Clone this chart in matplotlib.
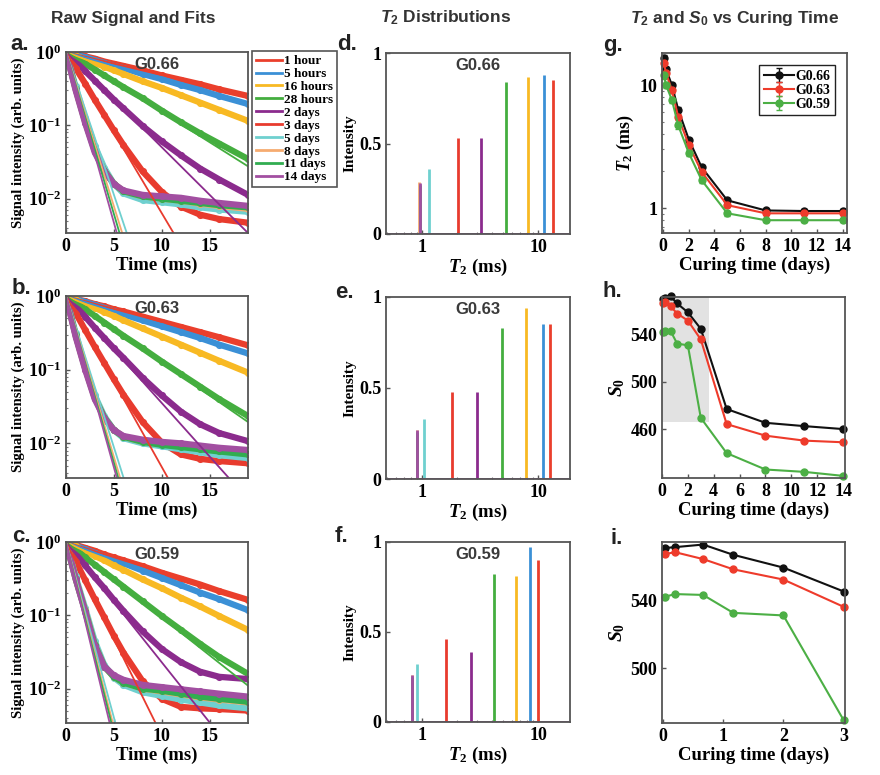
import numpy as np
import matplotlib
matplotlib.use('Agg')
import matplotlib.pyplot as plt

plt.rcParams['font.family'] = 'Liberation Serif'
plt.rcParams['font.weight'] = 'bold'
plt.rcParams['axes.labelweight'] = 'bold'
plt.rcParams['mathtext.fontset'] = 'custom'
plt.rcParams['mathtext.rm'] = 'Liberation Serif:bold'
plt.rcParams['mathtext.it'] = 'Liberation Serif:italic:bold'
plt.rcParams['mathtext.bf'] = 'Liberation Sans:italic:bold'
plt.rcParams['mathtext.sf'] = 'Liberation Sans:bold'

# ---- data ----
labels = ['1 hour', '5 hours', '16 hours', '28 hours', '2 days', '3 days',
          '5 days', '8 days', '11 days', '14 days']
colors = ['#ea3f2c', '#3b90d6', '#f8b923', '#44ae3f', '#8b2b8d', '#e83b2e',
          '#6fd0cf', '#f6ab70', '#31ad50', '#a24fa1']

# raw decays: log10(signal) at t_ms, one row per curing time
t_ms = [0, 1, 2, 3, 4, 5, 6, 8, 10, 12, 14, 16, 19]
logsig_a = [
    [0, -0.03, -0.06, -0.09, -0.13, -0.16, -0.19, -0.25, -0.32, -0.38, -0.44, -0.51, -0.60],
    [0, -0.04, -0.07, -0.11, -0.15, -0.19, -0.22, -0.30, -0.37, -0.45, -0.52, -0.60, -0.71],
    [0, -0.05, -0.10, -0.15, -0.20, -0.25, -0.30, -0.40, -0.49, -0.59, -0.69, -0.79, -0.94],
    [0, -0.08, -0.16, -0.24, -0.32, -0.40, -0.48, -0.63, -0.80, -0.96, -1.11, -1.25, -1.46],
    [0, -0.13, -0.26, -0.39, -0.52, -0.65, -0.77, -1.01, -1.22, -1.41, -1.59, -1.74, -1.95],
    [0, -0.22, -0.43, -0.65, -0.86, -1.07, -1.27, -1.63, -1.91, -2.11, -2.22, -2.28, -2.33],
    [0, -0.47, -0.90, -1.28, -1.58, -1.80, -1.93, -2.02, -2.05, -2.08, -2.12, -2.15, -2.18],
    [0, -0.50, -0.95, -1.33, -1.62, -1.80, -1.90, -1.97, -2.00, -2.03, -2.07, -2.10, -2.14],
    [0, -0.50, -0.95, -1.35, -1.62, -1.80, -1.90, -1.97, -2.00, -2.03, -2.06, -2.09, -2.12],
    [0, -0.52, -0.97, -1.37, -1.63, -1.80, -1.89, -1.95, -1.97, -1.99, -2.03, -2.06, -2.10],
]
logsig_b = [
    [0, -0.04, -0.07, -0.11, -0.14, -0.18, -0.21, -0.28, -0.35, -0.42, -0.49, -0.56, -0.67],
    [0, -0.04, -0.08, -0.12, -0.16, -0.21, -0.25, -0.33, -0.41, -0.49, -0.57, -0.66, -0.78],
    [0, -0.05, -0.11, -0.16, -0.22, -0.27, -0.33, -0.44, -0.55, -0.66, -0.77, -0.88, -1.04],
    [0, -0.09, -0.18, -0.27, -0.36, -0.45, -0.54, -0.71, -0.89, -1.06, -1.23, -1.40, -1.63],
    [0, -0.14, -0.28, -0.43, -0.57, -0.71, -0.84, -1.11, -1.35, -1.57, -1.74, -1.86, -1.97],
    [0, -0.23, -0.46, -0.69, -0.91, -1.13, -1.34, -1.71, -1.99, -2.15, -2.21, -2.24, -2.27],
    [0, -0.50, -0.95, -1.35, -1.63, -1.82, -1.93, -2.00, -2.04, -2.08, -2.12, -2.16, -2.20],
    [0, -0.53, -0.98, -1.38, -1.65, -1.82, -1.91, -1.98, -2.01, -2.04, -2.07, -2.10, -2.14],
    [0, -0.53, -0.98, -1.38, -1.65, -1.82, -1.91, -1.98, -2.02, -2.05, -2.08, -2.11, -2.15],
    [0, -0.55, -1.00, -1.40, -1.66, -1.82, -1.90, -1.95, -1.98, -2.00, -2.03, -2.06, -2.09],
]
logsig_c = [
    [0, -0.04, -0.08, -0.12, -0.17, -0.21, -0.25, -0.33, -0.42, -0.50, -0.58, -0.67, -0.79],
    [0, -0.05, -0.10, -0.15, -0.20, -0.25, -0.29, -0.39, -0.49, -0.59, -0.69, -0.78, -0.93],
    [0, -0.06, -0.13, -0.19, -0.25, -0.32, -0.38, -0.51, -0.63, -0.76, -0.88, -1.01, -1.20],
    [0, -0.10, -0.21, -0.31, -0.41, -0.51, -0.61, -0.81, -1.01, -1.20, -1.39, -1.57, -1.80],
    [0, -0.16, -0.32, -0.48, -0.63, -0.79, -0.94, -1.22, -1.46, -1.64, -1.77, -1.84, -1.87],
    [0, -0.26, -0.52, -0.78, -1.03, -1.28, -1.51, -1.90, -2.14, -2.25, -2.27, -2.28, -2.30],
    [0, -0.47, -0.90, -1.35, -1.68, -1.85, -1.95, -2.05, -2.10, -2.15, -2.19, -2.23, -2.27],
    [0, -0.50, -0.93, -1.40, -1.70, -1.84, -1.92, -2.00, -2.04, -2.08, -2.12, -2.15, -2.19],
    [0, -0.50, -0.94, -1.40, -1.70, -1.84, -1.92, -2.00, -2.03, -2.07, -2.11, -2.14, -2.18],
    [0, -0.50, -0.95, -1.42, -1.70, -1.82, -1.88, -1.95, -1.98, -2.01, -2.04, -2.07, -2.11],
]
# single-exponential fits: log10 value at t = 0 and t = 19 ms
fit_t = [0, 19]
fit_end_a = [-0.60, -0.71, -0.94, -1.56, -2.47, -4.18, -7.4, -8.0, -8.4, -8.85]
fit_end_b = [-0.667, -0.78, -1.04, -1.71, -2.76, -4.41, -7.8, -8.3, -8.6, -8.84]
fit_end_c = [-0.79, -0.93, -1.20, -1.96, -3.12, -5.02, -9.1, -9.6, -9.9, -10.3]

# T2 distributions: peak position (ms) and height
peak_d = [13.4, 11.2, 8.2, 5.3, 3.24, 2.03, 1.15, 0.95, 0.955, 0.96]
height_d = [0.85, 0.88, 0.87, 0.84, 0.53, 0.53, 0.36, 0.29, 0.27, 0.28]
peak_e = [12.6, 10.9, 7.9, 4.84, 2.95, 1.82, 1.05, 0.90, 0.905, 0.90]
height_e = [0.85, 0.85, 0.94, 0.83, 0.48, 0.48, 0.33, 0.27, 0.26, 0.27]
peak_f = [9.9, 8.43, 6.46, 4.2, 2.62, 1.6, 0.90, 0.82, 0.825, 0.82]
height_f = [0.90, 0.97, 0.81, 0.82, 0.39, 0.46, 0.32, 0.26, 0.25, 0.26]

# T2 and S0 vs curing time
days = [0.04, 0.21, 0.67, 1.17, 2, 3, 5, 8, 11, 14]
t2_066 = [16.6, 13.5, 10.0, 6.3, 3.6, 2.15, 1.16, 0.96, 0.95, 0.95]
t2_063 = [15.1, 12.6, 9.1, 5.5, 3.25, 1.97, 1.06, 0.91, 0.91, 0.91]
t2_059 = [12.1, 10.0, 7.6, 4.7, 2.8, 1.69, 0.91, 0.80, 0.80, 0.80]
t2_err = [0.8, 0.6, 0.45, 0.3, 0.15, 0.09, 0.04, 0.03, 0.03, 0.03]
s0_066 = [570.5, 571, 572.5, 566.5, 559, 545, 477, 465.3, 462.5, 460]
s0_063 = [567, 568, 564, 558, 552, 536, 464.2, 454.4, 450.2, 448.8]
s0_059 = [542, 543.5, 543, 532.5, 531, 469.5, 439.6, 425.7, 423.7, 420.3]
zoom_days = [0, 3.6]
zoom_s0 = [466, 572]

series_names = ['G0.66', 'G0.63', 'G0.59']
series_colors = ['#111111', '#ee3b2b', '#4caf45']

W, H = 880, 775
fig = plt.figure(figsize=(W / 100, H / 100), dpi=100)

def box(x0, y0, x1, y1):
    return fig.add_axes([x0 / W, 1 - y1 / H, (x1 - x0) / W, (y1 - y0) / H])

def style(ax):
    for s in ax.spines.values():
        s.set_color('#555555')
        s.set_linewidth(1.3)
    ax.tick_params(direction='in', labelsize=13, length=3, width=1, color='#555555')
    ax.tick_params(which='minor', direction='in', length=1.5, width=0.8, color='#777777')
    for lab in ax.get_xticklabels() + ax.get_yticklabels():
        lab.set_fontweight('bold')

tag_font = dict(family='Liberation Sans', weight='bold', fontsize=16, color='#222222')
name_font = dict(family='Liberation Sans', weight='bold', fontsize=12, color='#3a3a3a')

# ---- column 1: raw signal ----
rows = [(52, 233), (296, 478), (542, 723)]
raw_sets = [(logsig_a, fit_end_a, 'G0.66'), (logsig_b, fit_end_b, 'G0.63'),
            (logsig_c, fit_end_c, 'G0.59')]
for r, (logsig, fit_end, name) in enumerate(raw_sets):
    ax = box(66, rows[r][0], 248, rows[r][1])
    fits = []
    for k in range(10):
        ax.plot(t_ms, 10 ** np.array(logsig[k]), '-o', color=colors[k], lw=4.5,
                ms=4, mfc='none', mew=1.1)
    for k in range(10):
        ln, = ax.plot(fit_t, 10 ** np.array([0, fit_end[k]]), color=colors[k], lw=1.3)
        fits.append(ln)
    ax.set_yscale('log')
    ax.set_xlim(0, 19)
    ax.set_ylim(10 ** -2.47, 1)
    ax.set_xticks([0, 5, 10, 15])
    ax.set_yticks([1, 0.1, 0.01])
    ax.set_xlabel('Time (ms)', fontsize=13.5, labelpad=1)
    ax.set_ylabel('Signal intensity (arb. units)', fontsize=10.5, labelpad=2)
    ax.text(0.5, 0.93, name, transform=ax.transAxes, ha='center', va='center', **name_font)
    style(ax)
    if r == 0:
        leg = ax.legend(fits, labels, loc='upper left', bbox_to_anchor=(1.022, 1.005),
                        borderaxespad=0, fontsize=9.5, labelspacing=0.05,
                        handlelength=2.0, handletextpad=0.1, borderpad=0.3,
                        fancybox=False, framealpha=1, edgecolor='#555555')
        leg.get_frame().set_linewidth(1.2)
        for ln in leg.get_lines():
            ln.set_linewidth(2)

# ---- column 2: T2 distributions ----
dist_rows = [(53, 234), (297, 479), (542, 722)]
dist_sets = [(peak_d, height_d, 'G0.66'), (peak_e, height_e, 'G0.63'),
             (peak_f, height_f, 'G0.59')]
for r, (peaks, heights, name) in enumerate(dist_sets):
    ax = box(386, dist_rows[r][0], 570, dist_rows[r][1])
    for k in range(10):
        ax.vlines(peaks[k], 0, heights[k], color=colors[k], lw=2)
    ax.axhline(0, color=colors[9], lw=2)
    ax.set_xscale('log')
    ax.set_xlim(0.49, 18.8)
    ax.set_ylim(0, 1)
    ax.set_xticks([1, 10], ['1', '10'])
    ax.set_yticks([0, 0.5, 1], ['0', '0.5', '1'])
    ax.set_xlabel(r'$T_2$ (ms)', fontsize=13.5, labelpad=1)
    ax.set_ylabel('Intensity', fontsize=11, labelpad=2)
    ax.text(0.5, 0.93, name, transform=ax.transAxes, ha='center', va='center', **name_font)
    style(ax)

# ---- column 3: T2 and S0 vs curing time ----
t2_sets = [t2_066, t2_063, t2_059]
s0_sets = [s0_066, s0_063, s0_059]

ax = box(662, 53, 847, 233)
for vals, c, n in zip(t2_sets, series_colors, series_names):
    ax.errorbar(days, vals, yerr=t2_err, color=c, lw=1.5, marker='o', ms=5,
                capsize=2, elinewidth=1, label=n, clip_on=False)
ax.set_yscale('log')
ax.set_xlim(-0.1, 14.35)
ax.set_ylim(0.63, 18.2)
ax.set_xticks(range(0, 15, 2))
ax.set_yticks([1, 10], ['1', '10'])
ax.set_xlabel('Curing time (days)', fontsize=13.5, labelpad=1)
ax.set_ylabel(r'$T_2$ (ms)', fontsize=13, labelpad=2)
leg = ax.legend(loc='upper right', fontsize=10, labelspacing=0.1, handlelength=2.2,
                handletextpad=0.1, borderpad=0.3, fancybox=False, framealpha=1,
                edgecolor='#222222', bbox_to_anchor=(0.97, 0.97))
leg.get_frame().set_linewidth(1)
style(ax)

ax = box(662, 297, 845, 478)
ax.fill_between(zoom_days, zoom_s0[0], zoom_s0[1], color='#e2e2e2', lw=0, zorder=0)
for vals, c in zip(s0_sets, series_colors):
    ax.plot(days, vals, color=c, lw=1.5, marker='o', ms=5, clip_on=False)
ax.set_xlim(0, 14.15)
ax.set_ylim(418.5, 572)
ax.set_xticks(range(0, 15, 2))
ax.set_yticks([460, 500, 540])
ax.set_xlabel('Curing time (days)', fontsize=13.5, labelpad=1)
ax.set_ylabel(r'$S_0$', fontsize=14, labelpad=2)
style(ax)

ax = box(662, 542, 845, 723)
for vals, c in zip(s0_sets, series_colors):
    ax.plot(days[:6], vals[:6], color=c, lw=1.5, marker='o', ms=5, clip_on=False)
ax.set_xlim(-0.01, 3.02)
ax.set_ylim(468, 574)
ax.set_xticks([0, 1, 2, 3])
ax.set_yticks([500, 540])
ax.set_xlabel('Curing time (days)', fontsize=13.5, labelpad=1)
ax.set_ylabel(r'$S_0$', fontsize=14, labelpad=2)
style(ax)

# ---- titles and panel tags ----
title_font = dict(family='Liberation Sans', weight='bold', fontsize=12.5, color='#333333')
fig.text(133 / W, 1 - 18 / H, 'Raw Signal and Fits', ha='center', va='center', **title_font)
fig.text(446 / W, 1 - 18 / H, r'$\mathbf{T}_{\mathsf{2}}$ Distributions', ha='center',
         va='center', **title_font)
fig.text(735 / W, 1 - 18 / H, r'$\mathbf{T}_{\mathsf{2}}$ and $\mathbf{S}_{\mathsf{0}}$ vs Curing Time',
         ha='center', va='center', **title_font)

tags = ['a.', 'b.', 'c.', 'd.', 'e.', 'f.', 'g.', 'h.', 'i.']
tag_x = [10, 12, 12, 337, 335, 335, 603, 603, 610]
tag_y = [44, 289, 536, 44, 293, 537, 46, 292, 538]
for s, x, y in zip(tags, tag_x, tag_y):
    fig.text(x / W, 1 - y / H, s, ha='left', va='center', **tag_font)

fig.savefig('out.png', dpi=100)
